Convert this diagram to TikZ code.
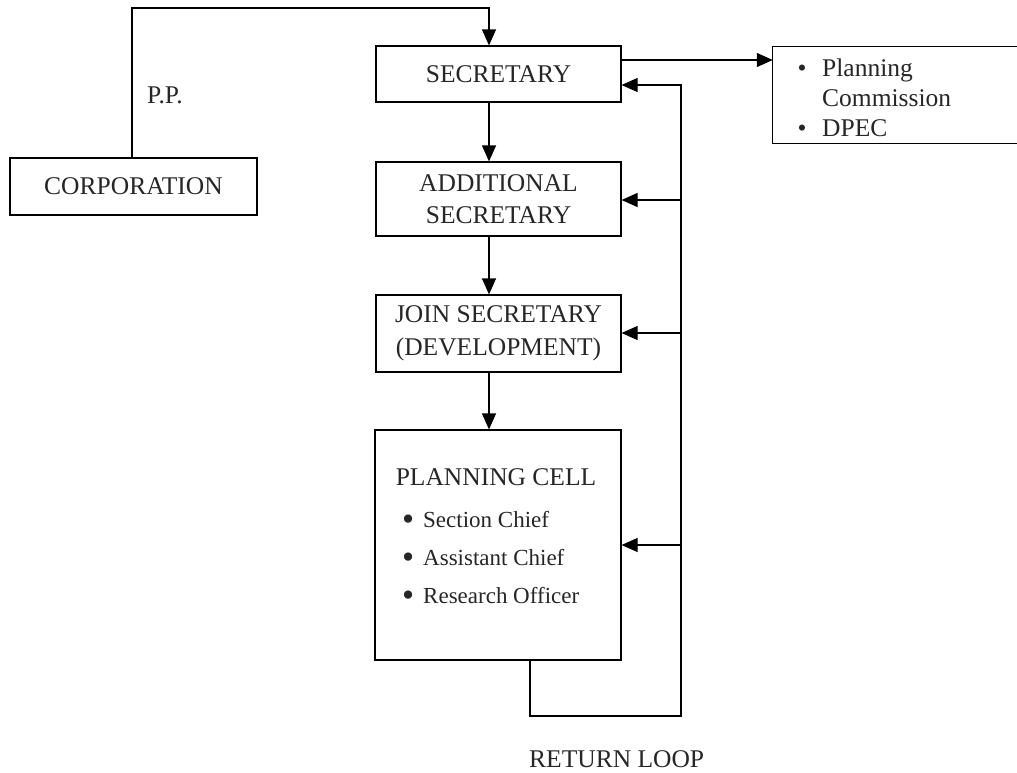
\documentclass[tikz,border=0pt]{standalone}
\usepackage{fontspec}
\setmainfont{Liberation Serif}
\usetikzlibrary{arrows.meta}
\begin{document}
\begin{tikzpicture}[x=1pt,y=-1pt,
  box/.style={draw, line width=1.2pt, inner sep=0pt, align=center, text=black!85, font=\fontsize{25.5}{32.5}\selectfont},
  lbl/.style={inner sep=0pt, text=black!85, font=\fontsize{25.5}{32}\selectfont},
  item/.style={inner sep=0pt, anchor=base west, text=black!85, font=\fontsize{23}{28}\selectfont},
  arr/.style={line width=1.2pt, -{Triangle[length=16pt,width=14pt]}},
  ln/.style={line width=1.2pt}]
\useasboundingbox (0,0) rectangle (1017,772);

% boxes
\node[box, minimum width=247pt, minimum height=57pt] (corp) at (133.5,186.5) {CORPORATION};
\node[box, minimum width=245pt, minimum height=56pt] (sec) at (498.5,74) {SECRETARY};
\node[box, minimum width=245pt, minimum height=74pt] (add) at (498.5,199) {ADDITIONAL\\SECRETARY};
\node[box, minimum width=245pt, minimum height=77pt] (join) at (498.5,333.5) {JOIN SECRETARY\\(DEVELOPMENT)};
\node[box, minimum width=246pt, minimum height=230pt] (cell) at (498,545) {};

% planning cell contents
\newcommand{\bigdot}{\makebox[21pt][l]{\raisebox{-3pt}{\scalebox{1.5}{\textbullet}}}}
\node[lbl, anchor=base] (cellt) at (496,485) {PLANNING CELL};
\node[item] (i1) at (402,527) {\bigdot Section Chief};
\node[item] (i2) at (402,565) {\bigdot Assistant Chief};
\node[item] (i3) at (402,603) {\bigdot Research Officer};

% planning commission box (right side cut off)
\node[inner sep=0pt, minimum width=244pt, minimum height=96pt] (pc) at (895,95) {};
\draw[ln] (pc.north east) -- (pc.north west) -- (pc.south west) -- (pc.south east);
\node[lbl, anchor=base west] (pc1) at (797.5,76) {\makebox[24.5pt][l]{\textbullet}Planning};
\node[lbl, anchor=base west] (pc1b) at (822,106) {Commission};
\node[lbl, anchor=base west] (pc2) at (797.5,136) {\makebox[24.5pt][l]{\textbullet}DPEC};

% labels
\node[lbl, anchor=base west] (pp) at (147,103) {P.P.};
\node[lbl, anchor=base west] (rl) at (529,767) {RETURN LOOP};

% connectors
\coordinate (ptop) at (132,8);
\coordinate (stop) at (489,8);
\draw[arr] (corp.north -| ptop) -- (ptop) -- (stop) -- (stop |- sec.north);
\draw[arr] (sec.south -| stop) -- (add.north -| stop);
\draw[arr] (add.south -| stop) -- (join.north -| stop);
\draw[arr] (join.south -| stop) -- (cell.north -| stop);

\coordinate (pcy) at (700,60);
\draw[arr] (sec.east |- pcy) -- (pc.west |- pcy);

\coordinate (lb) at (530,716);
\coordinate (lr) at (681,716);
\coordinate (lt) at (681,85);
\draw[arr] (cell.south -| lb) -- (lb) -- (lr) -- (lt) -- (sec.east |- lt);
\coordinate (l1) at (681,200);
\coordinate (l2) at (681,333);
\coordinate (l3) at (681,545);
\draw[arr] (l1) -- (add.east |- l1);
\draw[arr] (l2) -- (join.east |- l2);
\draw[arr] (l3) -- (cell.east |- l3);
\end{tikzpicture}
\end{document}
